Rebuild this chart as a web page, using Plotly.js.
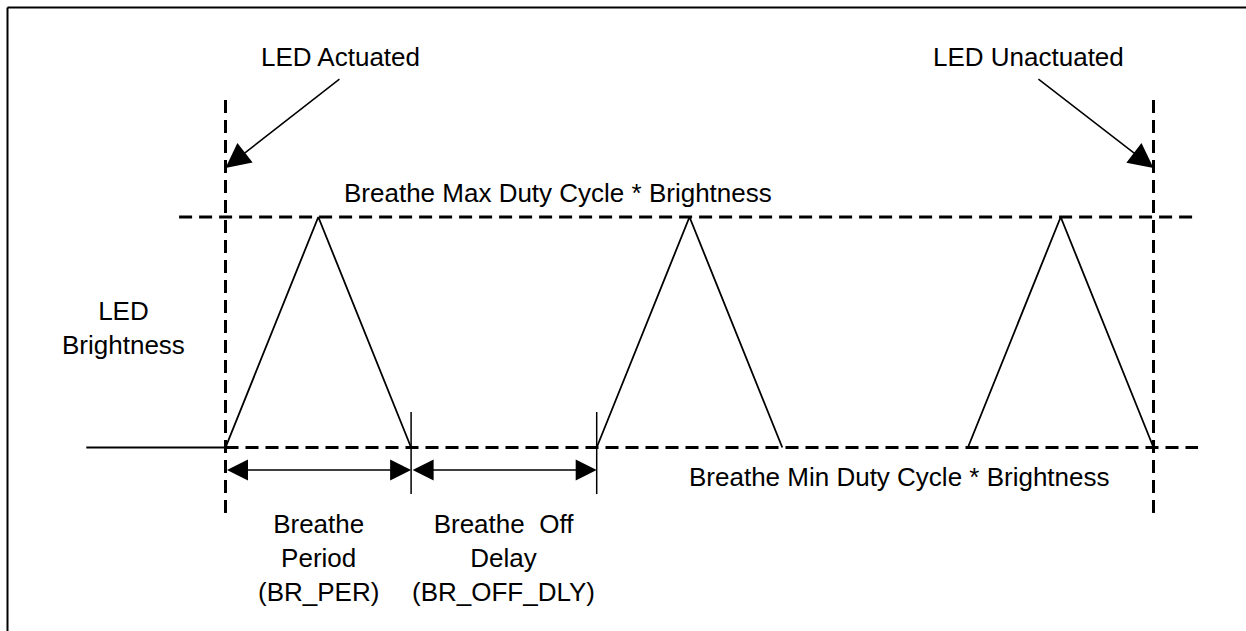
<!DOCTYPE html>
<html>
<head>
<meta charset="utf-8">
<script src="https://cdn.plot.ly/plotly-3.0.1.min.js"></script>
<style>
  html, body { margin: 0; padding: 0; background: #ffffff; }
  #chart { width: 1246px; height: 631px; }
</style>
</head>
<body>
<div id="chart"></div>
<script>
// ---- Data (time in breathe periods, level as fraction of max duty cycle) ----
const waveTime  = [-0.75, 0, 0.5, 1, null, 2, 2.5, 3, null, 4, 4.5, 5];
const waveLevel = [0, 0, 1, 0, null, 0, 1, 0, null, 0, 1, 0];
const maxLevel = 1;
const minLevel = 0;
const maxLineSpan = [-0.25, 5.23];
const minLineSpan = [0, 5.24];
const actuatedTime = 0;
const unactuatedTime = 5;
const eventLineSpan = [-0.284, 1.512];
const intervalBounds = [0, 1, 2];        // BR_PER from 0..1, BR_OFF_DLY from 1..2
const tickSpan = [-0.202, 0.154];
const intervalLabels = ["Breathe<br>Period<br>(BR_PER)", "Breathe\u00a0 Off<br>Delay<br>(BR_OFF_DLY)"];
const eventLabels = ["LED Actuated", "LED Unactuated"];
const maxLabel = "Breathe Max Duty Cycle * Brightness";
const minLabel = "Breathe Min Duty Cycle * Brightness";
const yLabel = "LED<br>Brightness";

// ---- Styles ----
const FONT = {family: '"Liberation Sans", Arial, sans-serif', size: 26, color: '#000000'};
const DASH = '13px,7px';
const BLACK = '#000000';

const traces = [];
// waveform
traces.push({x: waveTime, y: waveLevel, mode: 'lines', line: {color: BLACK, width: 1.8}, connectgaps: false, hoverinfo: 'skip'});
// max / min dashed levels
traces.push({x: maxLineSpan, y: [maxLevel, maxLevel], mode: 'lines', line: {color: BLACK, width: 3, dash: DASH}, hoverinfo: 'skip'});
traces.push({x: minLineSpan, y: [minLevel, minLevel], mode: 'lines', line: {color: BLACK, width: 3, dash: DASH}, hoverinfo: 'skip'});
// actuated / unactuated dashed verticals
[actuatedTime, unactuatedTime].forEach(t => {
  traces.push({x: [t, t], y: eventLineSpan, mode: 'lines', line: {color: BLACK, width: 3, dash: DASH}, hoverinfo: 'skip'});
});
// interval ticks (solid) at boundaries after the first
intervalBounds.slice(1).forEach(t => {
  traces.push({x: [t, t], y: tickSpan, mode: 'lines', line: {color: BLACK, width: 1.5}, hoverinfo: 'skip'});
});

const annotations = [];
const arrowY = -0.0976;
for (let i = 0; i < intervalBounds.length - 1; i++) {
  annotations.push({
    x: intervalBounds[i + 1], y: arrowY, ax: intervalBounds[i], ay: arrowY,
    xref: 'x', yref: 'y', axref: 'x', ayref: 'y',
    text: '', showarrow: true, arrowhead: 2, startarrowhead: 2, arrowside: 'end+start',
    arrowsize: 2.8, startarrowsize: 2.8, arrowwidth: 1.5, arrowcolor: BLACK, standoff: 0, startstandoff: 0
  });
  annotations.push({
    x: (intervalBounds[i] + intervalBounds[i + 1]) / 2, y: -0.479, xref: 'x', yref: 'y',
    text: intervalLabels[i], showarrow: false, font: FONT, xanchor: 'center', yanchor: 'middle', align: 'center'
  });
}
// event arrows and labels
const eventTimes = [actuatedTime, unactuatedTime];
const tailOffsets = [0.622, -0.628];
const labelOffsets = [0.620, -0.671];
eventTimes.forEach((t, i) => {
  annotations.push({
    x: t, y: 1.2126, ax: t + tailOffsets[i], ay: 1.603,
    xref: 'x', yref: 'y', axref: 'x', ayref: 'y',
    text: '', showarrow: true, arrowhead: 2, arrowsize: 3.3, arrowwidth: 1.5, arrowcolor: BLACK, standoff: 0
  });
  annotations.push({
    x: t + labelOffsets[i], y: 1.694, xref: 'x', yref: 'y', text: eventLabels[i],
    showarrow: false, font: FONT, xanchor: 'center', yanchor: 'middle'
  });
});
annotations.push({x: 1.792, y: 1.104, xref: 'x', yref: 'y', text: maxLabel, showarrow: false, font: FONT, xanchor: 'center', yanchor: 'middle'});
annotations.push({x: 3.634, y: -0.130, xref: 'x', yref: 'y', text: minLabel, showarrow: false, font: FONT, xanchor: 'center', yanchor: 'middle'});
annotations.push({x: -0.547, y: 0.518, xref: 'x', yref: 'y', text: yLabel, showarrow: false, font: FONT, xanchor: 'center', yanchor: 'middle', align: 'center'});

const bx = 7.5 / 1246, by = 1 - 7.5 / 631;
const layout = {
  width: 1246, height: 631,
  margin: {l: 0, r: 0, t: 0, b: 0, pad: 0},
  paper_bgcolor: '#ffffff', plot_bgcolor: '#ffffff',
  showlegend: false,
  xaxis: {range: [-1.2150, 5.4984], visible: false, fixedrange: true},
  yaxis: {range: [-0.7961, 1.9414], visible: false, fixedrange: true},
  annotations: annotations,
  shapes: [
    {type: 'line', xref: 'paper', yref: 'paper', x0: bx, x1: 1.01, y0: by, y1: by, line: {color: BLACK, width: 2}},
    {type: 'line', xref: 'paper', yref: 'paper', x0: bx, x1: bx, y0: -0.01, y1: by, line: {color: BLACK, width: 2}}
  ]
};

Plotly.newPlot('chart', traces, layout, {staticPlot: true, displayModeBar: false});
</script>
</body>
</html>
